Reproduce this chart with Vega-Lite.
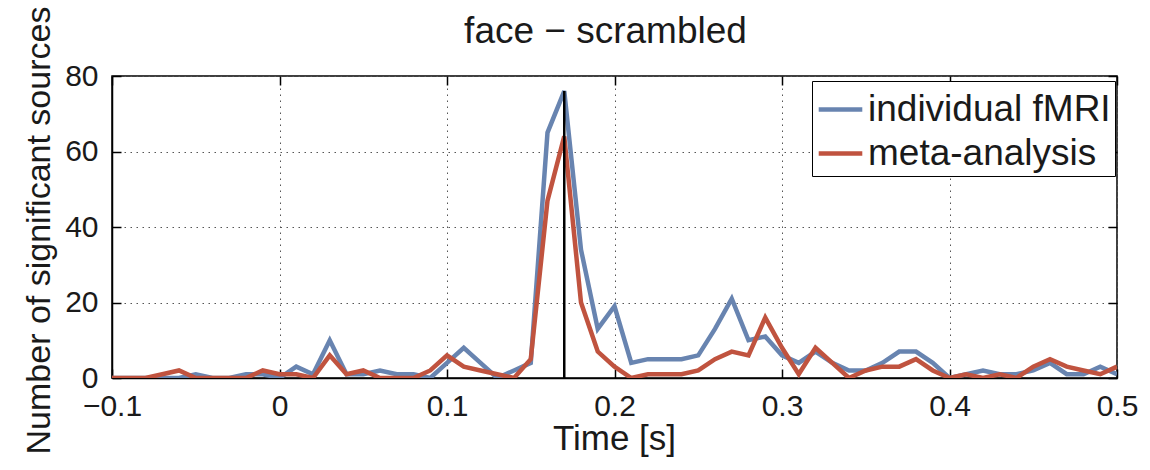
{
  "$schema": "https://vega.github.io/schema/vega-lite/v6.json",
  "width": 1005,
  "height": 302,
  "autosize": {"type": "none"},
  "padding": {"left": 112, "top": 76, "right": 33, "bottom": 92},
  "background": "white",
  "config": {
    "view": {"stroke": "black", "strokeWidth": 1.5},
    "axis": {
      "labelFont": "Liberation Sans",
      "labelFontSize": 30,
      "labelColor": "#1a1a1a",
      "labelFlush": false,
      "labelOverlap": false,
      "titleFont": "Liberation Sans",
      "titleFontSize": 35,
      "titleFontWeight": "normal",
      "titleColor": "#1a1a1a",
      "gridColor": "#555555",
      "gridDash": [1.5, 4.5],
      "gridWidth": 1,
      "domainColor": "black",
      "domainWidth": 1.5,
      "tickColor": "black",
      "tickWidth": 1.5,
      "tickSize": -9
    }
  },
  "resolve": {"axis": {"x": "independent", "y": "independent"}},
  "layer": [
    {
      "data": {
        "values": [
          {"t": -0.10, "individual fMRI": 0, "meta-analysis": 0},
          {"t": -0.09, "individual fMRI": 0, "meta-analysis": 0},
          {"t": -0.08, "individual fMRI": 0, "meta-analysis": 0},
          {"t": -0.07, "individual fMRI": 0, "meta-analysis": 1},
          {"t": -0.06, "individual fMRI": 0, "meta-analysis": 2},
          {"t": -0.05, "individual fMRI": 1, "meta-analysis": 0},
          {"t": -0.04, "individual fMRI": 0, "meta-analysis": 0},
          {"t": -0.03, "individual fMRI": 0, "meta-analysis": 0},
          {"t": -0.02, "individual fMRI": 1, "meta-analysis": 0},
          {"t": -0.01, "individual fMRI": 1, "meta-analysis": 2},
          {"t": 0.00, "individual fMRI": 0, "meta-analysis": 1},
          {"t": 0.01, "individual fMRI": 3, "meta-analysis": 1},
          {"t": 0.02, "individual fMRI": 1, "meta-analysis": 0},
          {"t": 0.03, "individual fMRI": 10, "meta-analysis": 6},
          {"t": 0.04, "individual fMRI": 1, "meta-analysis": 1},
          {"t": 0.05, "individual fMRI": 1, "meta-analysis": 2},
          {"t": 0.06, "individual fMRI": 2, "meta-analysis": 0},
          {"t": 0.07, "individual fMRI": 1, "meta-analysis": 0},
          {"t": 0.08, "individual fMRI": 1, "meta-analysis": 0},
          {"t": 0.09, "individual fMRI": 0, "meta-analysis": 2},
          {"t": 0.10, "individual fMRI": 4, "meta-analysis": 6},
          {"t": 0.11, "individual fMRI": 8, "meta-analysis": 3},
          {"t": 0.12, "individual fMRI": 4, "meta-analysis": 2},
          {"t": 0.13, "individual fMRI": 0, "meta-analysis": 1},
          {"t": 0.14, "individual fMRI": 2, "meta-analysis": 0},
          {"t": 0.15, "individual fMRI": 4, "meta-analysis": 5},
          {"t": 0.16, "individual fMRI": 65, "meta-analysis": 47},
          {"t": 0.17, "individual fMRI": 76, "meta-analysis": 64},
          {"t": 0.18, "individual fMRI": 34, "meta-analysis": 20},
          {"t": 0.19, "individual fMRI": 13, "meta-analysis": 7},
          {"t": 0.20, "individual fMRI": 19, "meta-analysis": 3},
          {"t": 0.21, "individual fMRI": 4, "meta-analysis": 0},
          {"t": 0.22, "individual fMRI": 5, "meta-analysis": 1},
          {"t": 0.23, "individual fMRI": 5, "meta-analysis": 1},
          {"t": 0.24, "individual fMRI": 5, "meta-analysis": 1},
          {"t": 0.25, "individual fMRI": 6, "meta-analysis": 2},
          {"t": 0.26, "individual fMRI": 13, "meta-analysis": 5},
          {"t": 0.27, "individual fMRI": 21, "meta-analysis": 7},
          {"t": 0.28, "individual fMRI": 10, "meta-analysis": 6},
          {"t": 0.29, "individual fMRI": 11, "meta-analysis": 16},
          {"t": 0.30, "individual fMRI": 6, "meta-analysis": 8},
          {"t": 0.31, "individual fMRI": 4, "meta-analysis": 1},
          {"t": 0.32, "individual fMRI": 7, "meta-analysis": 8},
          {"t": 0.33, "individual fMRI": 4, "meta-analysis": 4},
          {"t": 0.34, "individual fMRI": 2, "meta-analysis": 0},
          {"t": 0.35, "individual fMRI": 2, "meta-analysis": 2},
          {"t": 0.36, "individual fMRI": 4, "meta-analysis": 3},
          {"t": 0.37, "individual fMRI": 7, "meta-analysis": 3},
          {"t": 0.38, "individual fMRI": 7, "meta-analysis": 5},
          {"t": 0.39, "individual fMRI": 4, "meta-analysis": 2},
          {"t": 0.40, "individual fMRI": 0, "meta-analysis": 0},
          {"t": 0.41, "individual fMRI": 1, "meta-analysis": 1},
          {"t": 0.42, "individual fMRI": 2, "meta-analysis": 0},
          {"t": 0.43, "individual fMRI": 1, "meta-analysis": 1},
          {"t": 0.44, "individual fMRI": 1, "meta-analysis": 0},
          {"t": 0.45, "individual fMRI": 2, "meta-analysis": 3},
          {"t": 0.46, "individual fMRI": 4, "meta-analysis": 5},
          {"t": 0.47, "individual fMRI": 1, "meta-analysis": 3},
          {"t": 0.48, "individual fMRI": 1, "meta-analysis": 2},
          {"t": 0.49, "individual fMRI": 3, "meta-analysis": 1},
          {"t": 0.50, "individual fMRI": 1, "meta-analysis": 3}
        ]
      },
      "transform": [
        {"fold": ["individual fMRI", "meta-analysis"], "as": ["series", "n"]}
      ],
      "mark": {"type": "line", "strokeWidth": 4.5, "clip": true},
      "encoding": {
        "x": {
          "field": "t",
          "type": "quantitative",
          "scale": {"domain": [-0.1, 0.5], "nice": false, "zero": false},
          "axis": {
            "title": "Time [s]",
            "orient": "bottom",
            "grid": true,
            "values": [-0.1, 0, 0.1, 0.2, 0.3, 0.4, 0.5],
            "format": ".1~f",
            "labelPadding": 22,
            "titleX": 502,
            "titleY": 60,
            "titleBaseline": "middle"
          }
        },
        "y": {
          "field": "n",
          "type": "quantitative",
          "scale": {"domain": [0, 80], "nice": false},
          "axis": {
            "title": "Number of significant sources",
            "orient": "left",
            "grid": true,
            "values": [0, 20, 40, 60, 80],
            "labelPadding": 23,
            "titleFontSize": 34,
            "titleX": -73,
            "titleY": 154,
            "titleBaseline": "middle"
          }
        },
        "color": {
          "field": "series",
          "type": "nominal",
          "scale": {"domain": ["individual fMRI", "meta-analysis"], "range": ["#6884B0", "#C0533F"]},
          "legend": {
            "title": null,
            "orient": "none",
            "legendX": 700,
            "legendY": 5,
            "direction": "vertical",
            "fillColor": "white",
            "strokeColor": "black",
            "padding": 4,
            "symbolType": "stroke",
            "symbolSize": 1900,
            "symbolStrokeWidth": 4.5,
            "labelFont": "Liberation Sans",
            "labelFontSize": 37,
            "labelLimit": 500,
            "labelColor": "#1a1a1a",
            "labelOffset": 3,
            "rowPadding": 1
          }
        }
      }
    },
    {
      "data": {"values": [{"t": 0.17, "n": 0, "n2": 76}]},
      "mark": {"type": "rule", "color": "black", "strokeWidth": 2.5},
      "encoding": {
        "x": {
          "field": "t",
          "type": "quantitative",
          "axis": {
            "title": "face − scrambled",
            "orient": "top",
            "grid": false,
            "domain": false,
            "labels": false,
            "values": [-0.1, 0, 0.1, 0.2, 0.3, 0.4, 0.5],
            "titleFontSize": 37,
            "titleX": 493,
            "titleY": -45,
            "titleBaseline": "middle"
          }
        },
        "y": {
          "field": "n",
          "type": "quantitative",
          "axis": {
            "title": null,
            "orient": "right",
            "grid": false,
            "domain": false,
            "labels": false,
            "values": [0, 20, 40, 60, 80]
          }
        },
        "y2": {"field": "n2"}
      }
    }
  ]
}
